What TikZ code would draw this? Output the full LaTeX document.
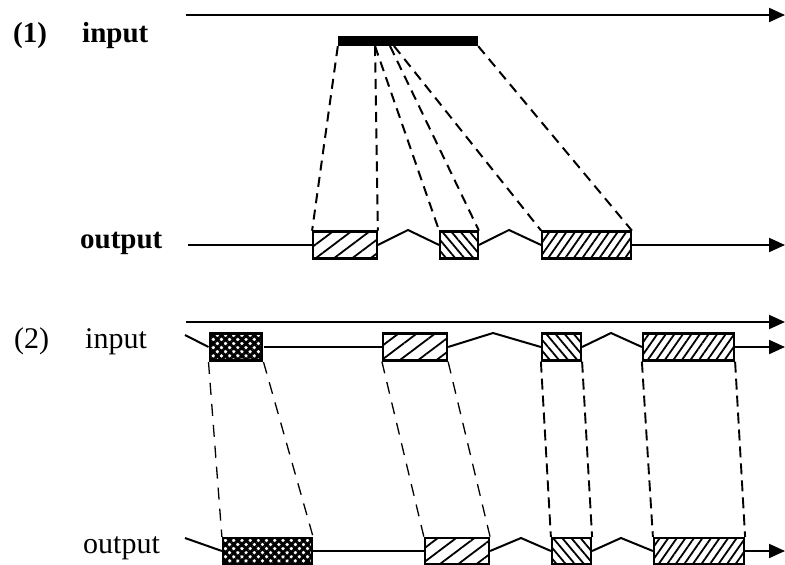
\documentclass[tikz,border=0pt]{standalone}
\usepackage{fontspec}
\setmainfont{Liberation Serif}
\usetikzlibrary{arrows.meta,patterns.meta}
\begin{document}
\begin{tikzpicture}[x=1pt,y=-1pt,
  main/.style={line width=2pt},
  arr/.style={main,-{Triangle[length=16pt,width=14pt]}},
  dsh1/.style={line width=2pt,dash pattern=on 10pt off 6.5pt},
  dshthin/.style={line width=1.3pt,dash pattern=on 12pt off 9pt},
  dshthick/.style={line width=1.9pt,dash pattern=on 11pt off 6pt},
  box/.style={draw,line width=2.2pt,inner sep=0pt,minimum height=27pt},
  wide/.style={box,pattern={Lines[angle=37,distance=11pt,line width=1.8pt]}},
  back/.style={box,pattern={Lines[angle=-50,distance=7pt,line width=1.8pt]}},
  dense/.style={box,pattern={Lines[angle=55,distance=7pt,line width=1.8pt]}},
  cross/.style={box,preaction={pattern={Lines[angle=45,distance=5.8pt,line width=3pt]}},
                pattern={Lines[angle=-45,distance=5.8pt,line width=3pt]}},
  lblA/.style={inner sep=0pt,anchor=base west,font=\bfseries\fontsize{29}{32}\selectfont},
  lblB/.style={inner sep=0pt,anchor=base west,font=\fontsize{30}{33}\selectfont}]
\useasboundingbox (0,0) rectangle (785,565);

% ---------- labels ----------
\node[lblA] (n1) at (13,42) {(1)};
\node[lblA] (in1) at (82,42) {input};
\node[lblA] (out1) at (80,248) {output};
\node[lblB] (n2) at (14,348) {(2)};
\node[lblB] (in2) at (85,348) {input};
\node[lblB] (out2) at (83,553) {output};

% ---------- panel 1 ----------
\coordinate (t1s) at (186,15);
\coordinate (t1e) at (785,15);
\draw[arr] (t1s) -- (t1e);

\node[fill=black,inner sep=0pt,minimum width=140pt,minimum height=10pt] (bar) at (408,41) {};

\node[wide,minimum width=64pt] (b1) at (345,245) {};
\node[back,minimum width=38pt] (b2) at (459,245) {};
\node[dense,minimum width=89pt] (b3) at (586.5,245) {};

\coordinate (o1s) at (188,245);
\coordinate (o1e) at (785,245);
\coordinate (p1) at (408,230);
\coordinate (p2) at (509,230);
\draw[main] (o1s) -- (b1.west);
\draw[main] (b1.east) -- (p1) -- (b2.west);
\draw[main] (b2.east) -- (p2) -- (b3.west);
\draw[arr] (b3.east) -- (o1e);

\coordinate (s2) at (375,46);
\coordinate (s4) at (390,46);
\coordinate (s5) at (394,46);
\draw[dsh1] (bar.south west) -- (b1.north west);
\draw[dsh1] (s2) -- (b1.north east);
\draw[dsh1] (s2) -- (b2.north west);
\draw[dsh1] (s4) -- (b2.north east);
\draw[dsh1] (s5) -- (b3.north west);
\draw[dsh1] (bar.south east) -- (b3.north east);

% ---------- panel 2 ----------
\coordinate (t2s) at (186,322);
\coordinate (t2e) at (785,322);
\draw[arr] (t2s) -- (t2e);

\node[cross,minimum width=52pt] (A) at (236,347) {};
\node[wide,minimum width=64pt] (B) at (415,347) {};
\node[back,minimum width=39pt] (C) at (561.5,347) {};
\node[dense,minimum width=91pt] (D) at (688.5,347) {};

\coordinate (i2s) at (185,335);
\coordinate (i2e) at (785,347);
\coordinate (q1) at (493,333);
\coordinate (q2) at (611,333);
\draw[main] (i2s) -- (A.west);
\draw[main] (A.east) -- (B.west);
\draw[main] (B.east) -- (q1) -- (C.west);
\draw[main] (C.east) -- (q2) -- (D.west);
\draw[arr] (D.east) -- (i2e);

\node[cross,minimum width=89pt,minimum height=26pt] (A2) at (267.5,551) {};
\node[wide,minimum width=64pt,minimum height=26pt] (B2) at (457,551) {};
\node[back,minimum width=39pt,minimum height=26pt] (C2) at (571.5,551) {};
\node[dense,minimum width=90pt,minimum height=26pt] (D2) at (699,551) {};

\coordinate (o2s) at (185,538);
\coordinate (o2e) at (785,551);
\coordinate (r1) at (521,538);
\coordinate (r2) at (621,538);
\draw[main] (o2s) -- (A2.west);
\draw[main] (A2.east) -- (B2.west);
\draw[main] (B2.east) -- (r1) -- (C2.west);
\draw[main] (C2.east) -- (r2) -- (D2.west);
\draw[arr] (D2.east) -- (o2e);

\draw[dshthin] (A.south west) -- (A2.north west);
\draw[dshthin] (A.south east) -- (A2.north east);
\draw[dshthin] (B.south west) -- (B2.north west);
\draw[dshthin] (B.south east) -- (B2.north east);
\draw[dshthick] (C.south west) -- (C2.north west);
\draw[dshthick] (C.south east) -- (C2.north east);
\draw[dshthick] (D.south west) -- (D2.north west);
\draw[dshthick] (D.south east) -- (D2.north east);
\end{tikzpicture}
\end{document}
